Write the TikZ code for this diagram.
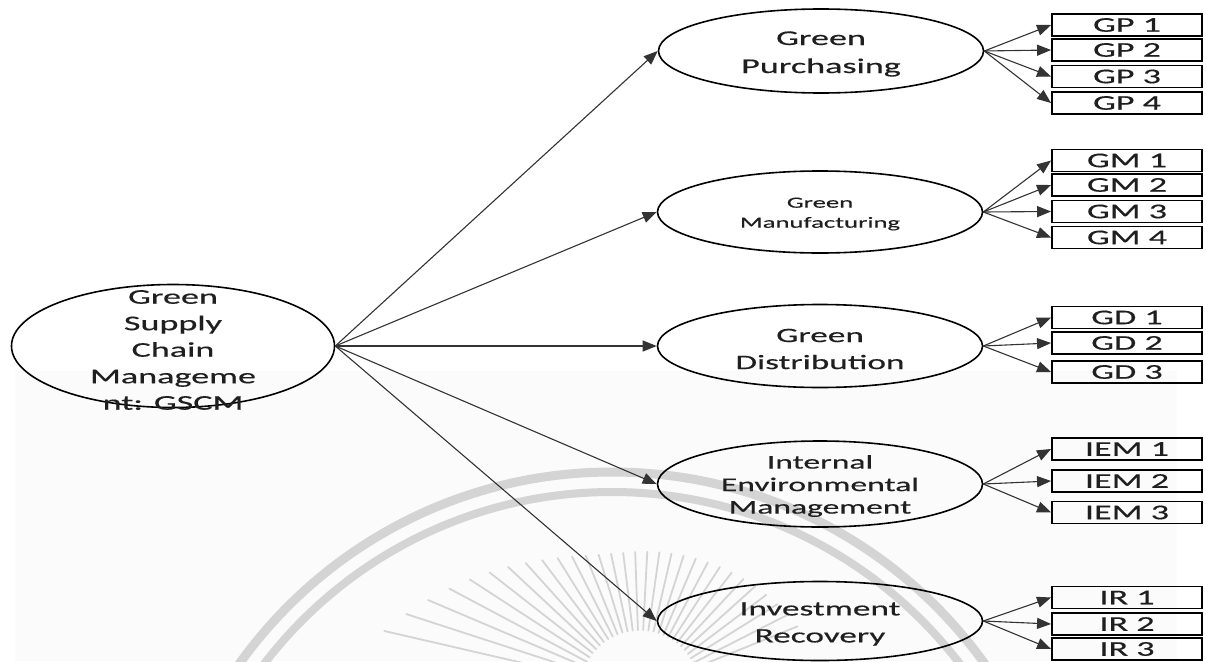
\documentclass[tikz,border=0pt]{standalone}
\usepackage{fontspec}
\setmainfont{Carlito}[FakeStretch=1.72,FakeBold=0.4]
\usetikzlibrary{shapes.geometric,arrows.meta}
\definecolor{inkline}{HTML}{333333}
\definecolor{sealgray}{HTML}{D4D4D4}
\begin{document}
\begin{tikzpicture}[x=1pt,y=-1pt,
  construct/.style={ellipse,draw=black,line width=1.6pt,inner sep=0pt,
    minimum width=325pt,minimum height=84pt},
  caption/.style={align=center,text=black!88,inner sep=0pt},
  itembox/.style={rectangle,draw=black,line width=1.9pt,inner sep=0pt,
    minimum width=150pt,minimum height=22pt,text=black!88,
    font=\fontsize{21}{24}\selectfont},
  link/.style={draw=inkline,line width=1.1pt,
    -{Triangle[length=14pt,width=11pt]}},
  sealline/.style={draw=sealgray,line cap=round},
]
\useasboundingbox (0,0) rectangle (1206,661);
\fill[white] (0,0) rectangle (1206,661);

% faint seal in the background
\begin{scope}
  \clip (0,0) rectangle (1206,661);
  \fill[black!1.5] (15,371) rectangle (1177,661);
  \draw[sealline,line width=9pt] (612,930) circle[radius=458];
  \draw[sealline,line width=8pt] (612,930) circle[radius=438];
  \foreach \a in {22,27,...,168} {
    \pgfmathsetmacro\len{\a>95 ? 138+0.024*(\a-95)^2 : 138+0.006*(95-\a)^2}
    \draw[sealline,line width=1.8pt]
      ({640+60*cos(\a)},{690-60*sin(\a)}) -- ({640+\len*cos(\a)},{690-\len*sin(\a)});
  }
\end{scope}

% central construct
\node[construct,minimum width=323pt,minimum height=123pt] (gscm) at (173,346) {};
\node[caption,font=\fontsize{21}{26.5}\selectfont] (gscmtext) at (173,350)
  {Green\\Supply\\Chain\\Manageme\\nt: GSCM};

% dimensions
\node[construct] (gp) at (821,51) {};
\node[caption,font=\fontsize{21}{28}\selectfont] (gptext) at (821,54) {Green\\Purchasing};
\node[construct,minimum height=82pt] (gm) at (820,212) {};
\node[caption,font=\fontsize{15.5}{20}\selectfont] (gmtext) at (820,214) {Green\\Manufacturing};
\node[construct,minimum height=83pt] (gd) at (820,346) {};
\node[caption,font=\fontsize{20.5}{27}\selectfont] (gdtext) at (820,349) {Green\\Distribution};
\node[construct,minimum height=86pt] (iem) at (820,484) {};
\node[caption,font=\fontsize{19.5}{22.5}\selectfont] (iemtext) at (820,486) {Internal\\Environmental\\Management};
\node[construct,minimum height=79pt] (ir) at (820,621) {};
\node[caption,font=\fontsize{20.5}{27}\selectfont] (irtext) at (820,624) {Investment\\Recovery};

% indicators
\node[itembox] (gp1) at (1127,25) {GP 1};
\node[itembox] (gp2) at (1127,50) {GP 2};
\node[itembox] (gp3) at (1127,76.5) {GP 3};
\node[itembox] (gp4) at (1127,103) {GP 4};

\node[itembox] (gm1) at (1127,160.5) {GM 1};
\node[itembox] (gm2) at (1127,185) {GM 2};
\node[itembox] (gm3) at (1127,211.5) {GM 3};
\node[itembox] (gm4) at (1127,237.5) {GM 4};

\node[itembox] (gd1) at (1127,317.5) {GD 1};
\node[itembox] (gd2) at (1127,343) {GD 2};
\node[itembox] (gd3) at (1127,372) {GD 3};

\node[itembox] (iem1) at (1127,449) {IEM 1};
\node[itembox] (iem2) at (1127,481) {IEM 2};
\node[itembox] (iem3) at (1127,512.5) {IEM 3};

\node[itembox] (ir1) at (1127,597.5) {IR 1};
\node[itembox] (ir2) at (1127,624) {IR 2};
\node[itembox] (ir3) at (1127,649) {IR 3};

% paths from the central construct
\foreach \t in {gp,gm,gd,iem,ir}
  \draw[link] (gscm.east) -- (\t.west);

% paths to the indicators
\foreach \t in {gp1,gp2,gp3,gp4} \draw[link] (gp.east) -- (\t.west);
\foreach \t in {gm1,gm2,gm3,gm4} \draw[link] (gm.east) -- (\t.west);
\foreach \t in {gd1,gd2,gd3} \draw[link] (gd.east) -- (\t.west);
\foreach \t in {iem1,iem2,iem3} \draw[link] (iem.east) -- (\t.west);
\foreach \t in {ir1,ir2,ir3} \draw[link] (ir.east) -- (\t.west);
\end{tikzpicture}
\end{document}
